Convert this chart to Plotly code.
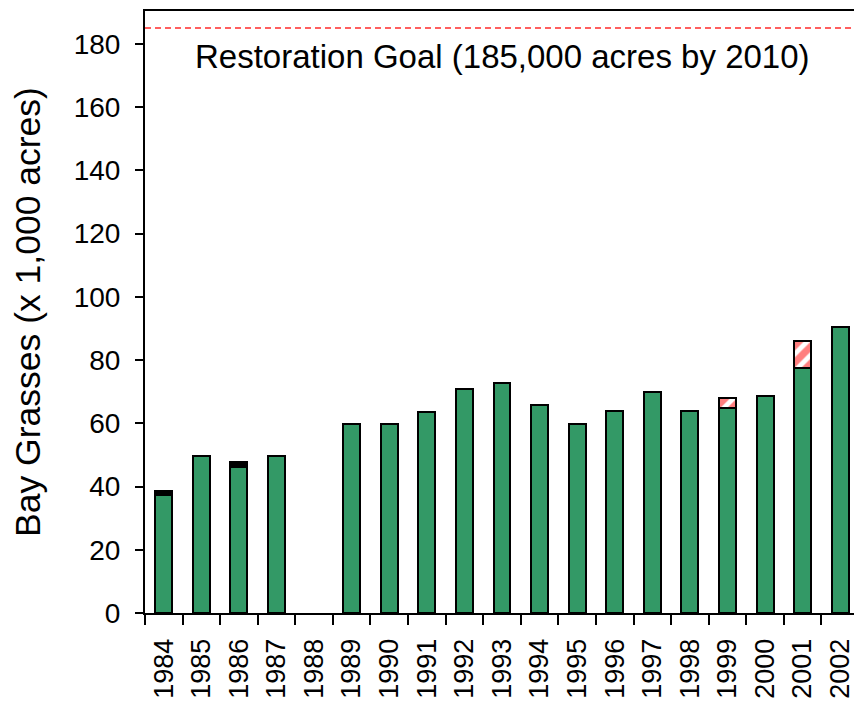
import plotly.graph_objects as go

years = [str(y) for y in range(1984, 2003)]
mapped = [37.2, 49.7, 46.3, 49.7, None, 59.8, 59.8, 63.7, 70.8, 72.7, 65.8, 59.7, 63.8, 69.8, 63.8, 64.7, 68.7, 77.4, 90.3]
black_cap = [1.5, 0, 1.4, 0, 0, 0, 0, 0, 0, 0, 0, 0, 0, 0, 0, 0, 0, 0, 0]
estimated = [0, 0, 0, 0, 0, 0, 0, 0, 0, 0, 0, 0, 0, 0, 0, 3.2, 0, 8.5, 0]
goal = 185
y_ticks = [0, 20, 40, 60, 80, 100, 120, 140, 160, 180]

font_family = "Liberation Sans, Arial, sans-serif"
bw = 0.45

fig = go.Figure()
fig.add_trace(go.Bar(
    x=years, y=mapped, width=bw,
    marker=dict(color="#339966", line=dict(color="black", width=2)),
    showlegend=False,
))
fig.add_trace(go.Bar(
    x=years, y=[v if v else None for v in black_cap], width=bw,
    marker=dict(color="black", line=dict(color="black", width=2)),
    showlegend=False,
))
fig.add_trace(go.Bar(
    x=years, y=[v if v else None for v in estimated], width=bw,
    marker=dict(color="white", line=dict(color="black", width=2),
                pattern=dict(shape="/", fgcolor="red", bgcolor="white", size=12, solidity=0.6)),
    showlegend=False,
))

fig.add_shape(type="line", xref="paper", x0=0, x1=1, yref="y", y0=goal, y1=goal,
              line=dict(color="#ff2a2a", width=1.5, dash="6px,4px"))
fig.add_annotation(xref="paper", x=0.5, yref="y", y=176, text="Restoration Goal (185,000 acres by 2010)",
                   showarrow=False, font=dict(family=font_family, size=33, color="black"))

fig.update_layout(
    barmode="stack",
    width=854, height=694,
    margin=dict(l=137, r=3, t=1, b=89),
    plot_bgcolor="white", paper_bgcolor="white",
    font=dict(family=font_family, color="black"),
)
fig.update_xaxes(
    type="category", tickangle=-90, tickfont=dict(size=27, family=font_family, color="black"),
    ticklabelstandoff=13,
    showline=True, linecolor="black", linewidth=2, mirror=True,
    ticks="outside", tickson="boundaries", ticklen=10, tickwidth=2, tickcolor="black",
    showgrid=False,
)
fig.update_yaxes(
    range=[0, 190.4], tickvals=y_ticks, ticktext=[str(v) for v in y_ticks],
    tickfont=dict(size=28, family=font_family, color="black"), ticklabelstandoff=9,
    title=dict(text="Bay Grasses (x 1,000 acres)", font=dict(size=35.5, family=font_family, color="black"), standoff=24),
    showline=True, linecolor="black", linewidth=2, mirror=True,
    ticks="outside", ticklen=8, tickwidth=2, tickcolor="black",
    showgrid=False, zeroline=False,
)

fig.write_html("out.html")
